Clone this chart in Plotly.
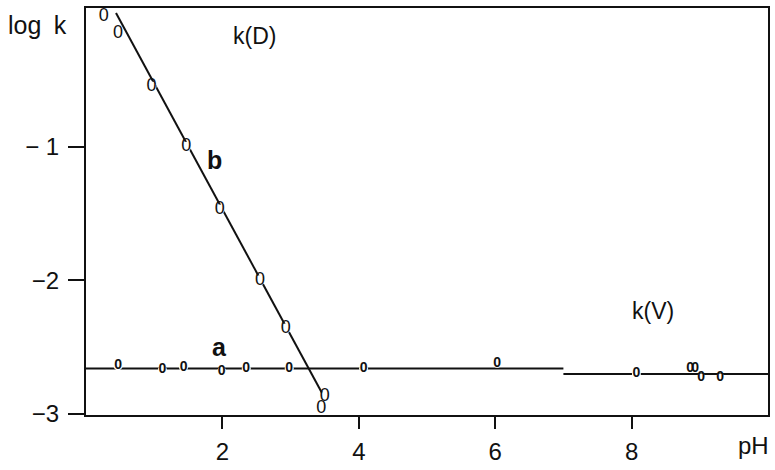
import plotly.graph_objects as go

# Series b: k(D)
b_ph = [0.26, 0.47, 0.96, 1.47, 1.96, 2.55, 2.93, 3.50, 3.45]
b_logk = [-0.03, -0.15, -0.55, -1.00, -1.47, -2.00, -2.36, -2.87, -2.96]
b_fit_ph = [0.44, 3.50]
b_fit_logk = [0.00, -2.88]

# Series a: k(V)
a_ph = [0.47, 1.12, 1.43, 1.99, 2.35, 2.98, 4.07, 6.03, 8.07, 8.86, 8.93, 9.02, 9.30]
a_logk = [-2.64, -2.67, -2.65, -2.68, -2.66, -2.66, -2.66, -2.62, -2.70, -2.66, -2.66, -2.73, -2.73]
a_fit1_ph = [0.0, 7.0]
a_fit1_logk = [-2.66, -2.66]
a_fit2_ph = [7.0, 10.0]
a_fit2_logk = [-2.70, -2.70]

x_ticks = [2, 4, 6, 8]
y_ticks = [-1, -2, -3]
y_ticktext = ["\u2212 1", "\u22122", "\u22123"]

FONT = "Liberation Sans"
INK = "#111111"

fig = go.Figure()
fig.add_trace(go.Scatter(x=b_fit_ph, y=b_fit_logk, mode="lines",
                         line=dict(color=INK, width=2), hoverinfo="skip"))
fig.add_trace(go.Scatter(x=a_fit1_ph, y=a_fit1_logk, mode="lines",
                         line=dict(color=INK, width=2), hoverinfo="skip"))
fig.add_trace(go.Scatter(x=a_fit2_ph, y=a_fit2_logk, mode="lines",
                         line=dict(color=INK, width=2), hoverinfo="skip"))
fig.add_trace(go.Scatter(x=b_ph, y=b_logk, mode="markers+text",
                         marker=dict(symbol="circle", size=10, color="white"),
                         text=["0"] * len(b_ph), textposition="middle center",
                         textfont=dict(family=FONT, size=18, color=INK)))
fig.add_trace(go.Scatter(x=a_ph, y=a_logk, mode="markers+text",
                         marker=dict(symbol="circle", size=9, color="white"),
                         text=["<b>0</b>"] * len(a_ph), textposition="middle center",
                         textfont=dict(family=FONT, size=14, color=INK)))

fig.update_layout(
    width=775, height=470,
    margin=dict(l=86, r=5, t=8, b=51),
    paper_bgcolor="white", plot_bgcolor="white",
    showlegend=False,
    font=dict(family=FONT, color=INK),
    xaxis=dict(range=[0, 10], tickvals=x_ticks, ticks="outside", ticklen=12,
               tickwidth=2, tickcolor=INK, showgrid=False, zeroline=False,
               showline=True, linecolor=INK, linewidth=2, mirror=True,
               tickfont=dict(size=24, family=FONT, color=INK), ticklabelstandoff=2),
    yaxis=dict(range=[-3.007, 0.037], tickvals=y_ticks, ticktext=y_ticktext,
               ticks="outside", ticklen=16, tickwidth=2, tickcolor=INK,
               showgrid=False, zeroline=False, showline=True, linecolor=INK,
               linewidth=2, mirror=True,
               tickfont=dict(size=24, family=FONT, color=INK), ticklabelstandoff=4),
    annotations=[
        dict(text="log\u2002k", xref="paper", yref="paper", x=(37 - 86) / 684,
             y=(419 - 25) / 411, xanchor="center", yanchor="middle", showarrow=False,
             font=dict(size=25, family=FONT, color=INK)),
        dict(text="k(D)", x=2.47, y=-0.17, showarrow=False,
             font=dict(size=23, family=FONT, color=INK)),
        dict(text="<b>b</b>", x=1.89, y=-1.10, showarrow=False,
             font=dict(size=25, family="Liberation Sans Narrow, Liberation Sans", color=INK)),
        dict(text="<b>a</b>", x=1.96, y=-2.50, showarrow=False,
             font=dict(size=25, family="Liberation Sans Narrow, Liberation Sans", color=INK)),
        dict(text="k(V)", x=8.32, y=-2.23, showarrow=False,
             font=dict(size=23, family=FONT, color=INK)),
        dict(text="pH", xref="paper", yref="paper", x=(755 - 86) / 684,
             y=(419 - 450) / 411, xanchor="center", yanchor="middle", showarrow=False,
             font=dict(size=24, family=FONT, color=INK)),
    ],
)

fig.write_html("out.html", config={"displayModeBar": False},
               post_script="document.body.style.margin='0';document.body.style.overflow='hidden';")
